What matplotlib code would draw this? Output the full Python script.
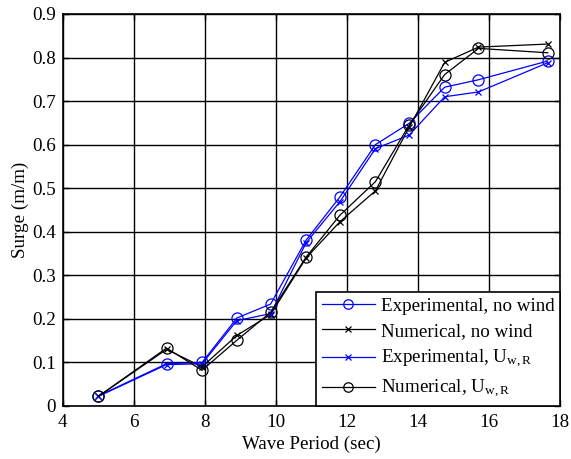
import matplotlib
matplotlib.use("Agg")
import matplotlib.pyplot as plt

plt.rcParams["font.family"] = ["Liberation Serif", "DejaVu Serif"]
plt.rcParams["mathtext.fontset"] = "custom"
plt.rcParams["mathtext.rm"] = "Liberation Serif"
plt.rcParams["mathtext.it"] = "Liberation Serif:italic"

period = [5.0, 6.92, 7.92, 8.9, 9.85, 10.85, 11.8, 12.8, 13.75, 14.75, 15.7, 17.65]
exp_nowind = [0.023, 0.097, 0.100, 0.202, 0.234, 0.381, 0.480, 0.600, 0.649, 0.732, 0.749, 0.792]
num_nowind = [0.022, 0.130, 0.090, 0.162, 0.210, 0.340, 0.423, 0.494, 0.640, 0.789, 0.824, 0.831]
exp_wind = [0.022, 0.095, 0.097, 0.196, 0.212, 0.375, 0.469, 0.591, 0.622, 0.710, 0.721, 0.788]
num_wind = [0.022, 0.133, 0.082, 0.151, 0.215, 0.342, 0.438, 0.515, 0.645, 0.761, 0.821, 0.811]

BLUE = "#0000ff"
FS = 13.7
fig = plt.figure(figsize=(5.71, 4.59), dpi=100)
ax = fig.add_axes([0.110, 0.1155, 0.871, 0.854])

ax.plot(period, exp_nowind, "-o", color=BLUE, lw=0.9, ms=8, mfc="none", mew=0.9,
        label="Experimental, no wind")
ax.plot(period, num_nowind, "-x", color="black", lw=0.9, ms=5, mew=0.9,
        label="Numerical, no wind")
ax.plot(period, exp_wind, "-x", color=BLUE, lw=0.9, ms=5, mew=0.9,
        label=r"Experimental, U$_{\mathrm{w,R}}$")
ax.plot(period, num_wind, "-o", color="black", lw=0.9, ms=8, mfc="none", mew=0.9,
        label=r"Numerical, U$_{\mathrm{w,R}}$")

ax.set_xlim(4, 18)
ax.set_ylim(0, 0.9)
ax.set_xticks(range(4, 19, 2))
ax.set_yticks([i / 10 for i in range(10)])
ax.set_yticklabels(["0"] + [f"{i / 10:.1f}" for i in range(1, 10)])
ax.grid(True, color="black", lw=1.0)
ax.tick_params(direction="in", labelsize=FS, length=4, width=1.0, top=True, right=True)
ax.tick_params(axis="x", pad=6)
ax.tick_params(axis="y", pad=5)
for sp in ax.spines.values():
    sp.set_linewidth(1.2)
ax.set_xlabel("Wave Period (sec)", fontsize=FS, labelpad=3)
ax.set_ylabel("Surge (m/m)", fontsize=FS, labelpad=2)

leg = ax.legend(loc="lower right", fontsize=FS, fancybox=False, framealpha=1,
                edgecolor="black", borderaxespad=0, handlelength=2.8,
                handletextpad=0.3, labelspacing=0.42, borderpad=0.3,
                markerscale=0.85)
leg.get_frame().set_linewidth(1.2)

fig.savefig("out.png", dpi=100)
